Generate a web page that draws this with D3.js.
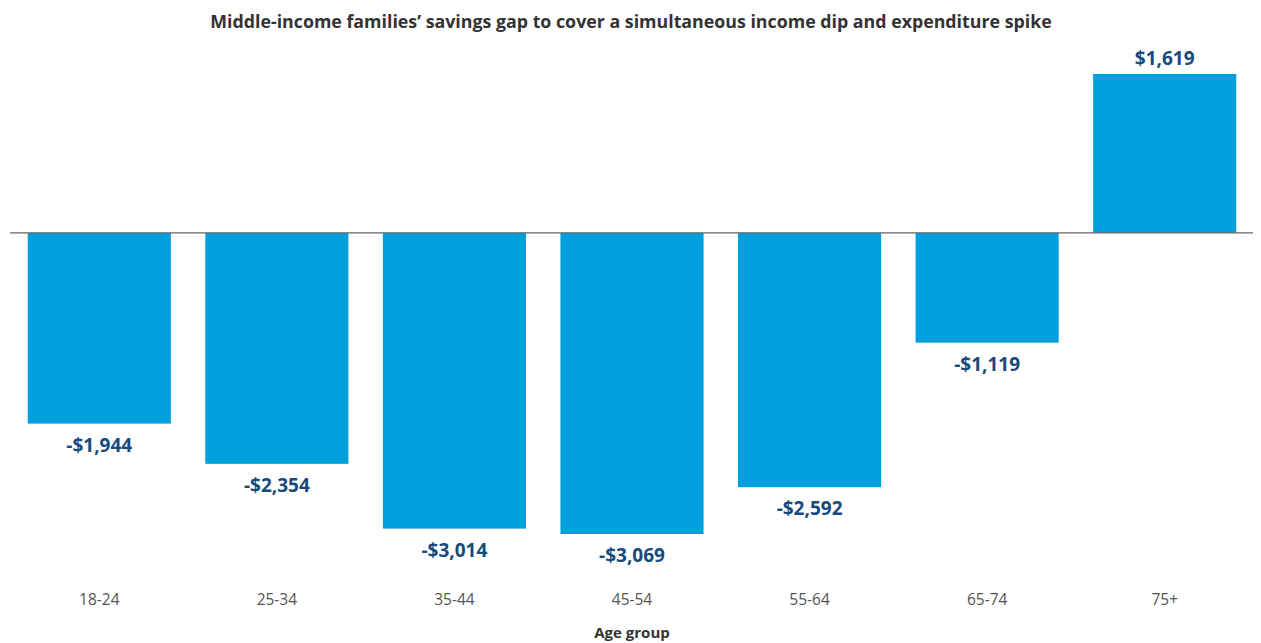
<!DOCTYPE html>
<html>
<head>
<meta charset="utf-8">
<script src="https://cdn.jsdelivr.net/npm/d3@7"></script>
<style>
  html, body { margin: 0; padding: 0; background: #fff; }
  svg { display: block; }
</style>
</head>
<body>
<svg id="chart" width="1261" height="643"></svg>
<script>
// Savings gap by age group (US dollars)
const ageGroups = ["18-24", "25-34", "35-44", "45-54", "55-64", "65-74", "75+"];
const savingsGap = [-1944, -2354, -3014, -3069, -2592, -1119, 1619];

const titleText = "Middle-income families\u2019 savings gap to cover a simultaneous income dip and expenditure spike";
const xAxisTitle = "Age group";

const width = 1261, height = 643;
const svg = d3.select("#chart");

const x = d3.scaleBand()
  .domain(ageGroups)
  .range([10.5, 1253.5])
  .paddingInner(0.194)
  .paddingOuter(0.097);

const y = d3.scaleLinear()
  .domain([-3069, 1619])
  .range([534, 74]);

const fmt = v => (v < 0 ? "-" : "") + "$" + d3.format(",")(Math.abs(v));

// Title
svg.append("text")
  .attr("x", 631)
  .attr("y", 28)
  .attr("text-anchor", "middle")
  .attr("font-family", "'Open Sans', sans-serif")
  .attr("font-weight", 700)
  .attr("font-size", 17.8)
  .attr("fill", "#333")
  .text(titleText);

// Bars
const data = ageGroups.map((g, i) => ({ g, v: savingsGap[i] }));
svg.append("g").selectAll("rect")
  .data(data)
  .join("rect")
  .attr("x", d => x(d.g))
  .attr("width", x.bandwidth())
  .attr("y", d => y(Math.max(0, d.v)))
  .attr("height", d => Math.abs(y(d.v) - y(0)))
  .attr("fill", "#00a0dc");

// Zero line
svg.append("line")
  .attr("x1", 10).attr("x2", 1253)
  .attr("y1", y(0)).attr("y2", y(0))
  .attr("stroke", "#666")
  .attr("stroke-width", 1.2);

// Value labels
svg.append("g").selectAll("text")
  .data(data)
  .join("text")
  .attr("x", d => x(d.g) + x.bandwidth() / 2)
  .attr("y", d => d.v < 0 ? y(d.v) + 28 : y(d.v) - 9)
  .attr("text-anchor", "middle")
  .attr("font-family", "'Open Sans', sans-serif")
  .attr("font-weight", 700)
  .attr("font-size", 19)
  .attr("fill", "#164a7c")
  .text(d => fmt(d.v));

// Category axis
const xAxis = svg.append("g")
  .attr("transform", "translate(0,594)")
  .call(d3.axisBottom(x).tickSize(0).tickPadding(0));
xAxis.select(".domain").remove();
xAxis.selectAll("text")
  .attr("font-family", "'Open Sans', sans-serif")
  .attr("font-size", 15.5)
  .attr("fill", "#555");

// Axis title
svg.append("text")
  .attr("x", 632)
  .attr("y", 638)
  .attr("text-anchor", "middle")
  .attr("font-family", "'Open Sans', sans-serif")
  .attr("font-weight", 700)
  .attr("font-size", 15)
  .attr("fill", "#333")
  .text(xAxisTitle);
</script>
</body>
</html>
